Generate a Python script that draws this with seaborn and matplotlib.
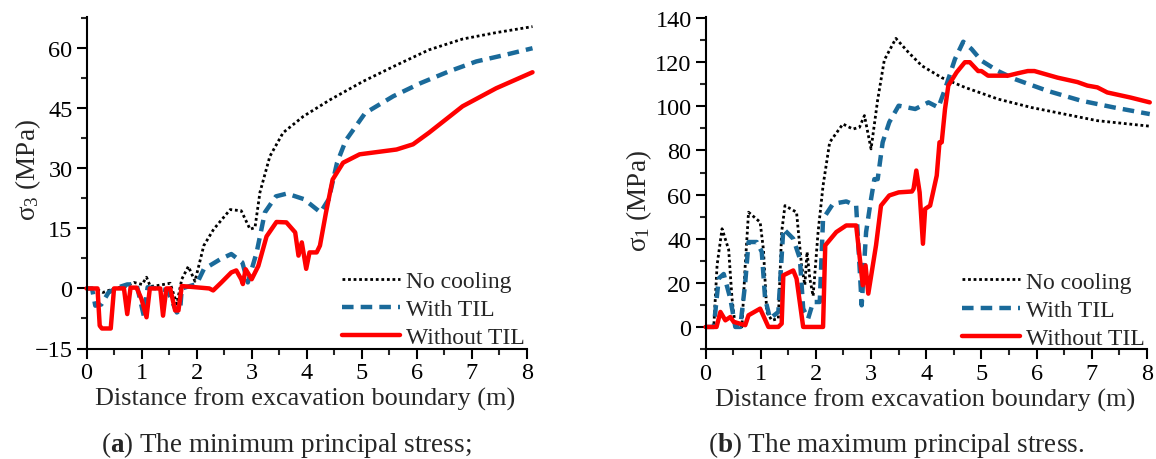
import numpy as np
import pandas as pd
import matplotlib
matplotlib.use("Agg")
import matplotlib.pyplot as plt
import seaborn as sns
from matplotlib.ticker import MultipleLocator

sns.set_theme(style="ticks")
plt.rcParams['font.family'] = ['Liberation Serif', 'DejaVu Serif']
plt.rcParams['mathtext.fontset'] = 'custom'
plt.rcParams['mathtext.rm'] = 'Liberation Serif'
plt.rcParams['mathtext.it'] = 'Liberation Serif:italic'
plt.rcParams['mathtext.bf'] = 'Liberation Serif:bold'

# ---------------- Panel (a): minimum principal stress ----------------
a_nc_x = [0, 0.15, 0.3, 0.51, 0.71, 0.86, 1.01, 1.09, 1.16, 1.28, 1.52, 1.64, 1.73, 1.85, 1.97, 2.13, 2.31,
          2.61, 2.81, 2.97, 3.06, 3.15, 3.33, 3.57, 3.94, 4.42, 5.02, 5.63, 6.22, 6.83, 7.44, 8.1]
a_nc_y = [0, 0, -1, 0, 0.5, 1.5, 1.0, 2.8, 0.5, 0.7, 1.3, -3.9, 2.3, 5.5, 1.8, 10.7, 14.8,
          19.7, 19.4, 14.8, 15.2, 24, 33, 38.9, 43, 47.1, 51.7, 55.8, 59.6, 62.3, 63.9, 65.4]

a_wt_x = [0, 0.1, 0.16, 0.27, 0.4, 0.56, 0.74, 0.91, 1.04, 1.11, 1.28, 1.47, 1.64, 1.7, 1.73, 2.0,
          2.13, 2.43, 2.63, 2.83, 2.93, 3.09, 3.24, 3.44, 3.64, 3.95, 4.25, 4.4, 4.55, 4.71, 5.06, 5.57,
          6.07, 6.58, 7.08, 7.59, 8.1]
a_wt_y = [0, 0, -4.3, -4.0, -1.0, 0.2, 1.0, 1.0, -6.8, 0.3, 0, -0.5, -6.0, -5.5, 0, 1.1,
          4.8, 7.3, 8.6, 6.5, 1.5, 9, 19, 23, 23.7, 22.3, 19, 22.3, 31.4, 37, 43.8, 48,
          51.3, 54.2, 56.7, 58.3, 60]

a_wo_x = [0, 0.2, 0.24, 0.28, 0.44, 0.5, 0.68, 0.74, 0.8, 0.91, 1.0, 1.09, 1.15, 1.34, 1.39, 1.45,
          1.52, 1.61, 1.67, 1.73, 2.23, 2.3, 2.45, 2.63, 2.72, 2.81, 2.84, 2.89, 3.0, 3.12, 3.27,
          3.45, 3.63, 3.79, 3.85, 3.91, 3.99, 4.05, 4.18, 4.24, 4.35, 4.47, 4.66, 4.96, 5.63, 5.93,
          6.22, 6.83, 7.44, 8.1]
a_wo_y = [0, 0, -9.3, -10, -10, 0, 0, -6.4, 0.2, 0.2, -2.7, -7.2, 0, 0, -6.8, 0,
          0, -5.5, -5.5, 0.6, 0, -0.5, 1.5, 4.0, 4.5, 2.3, 1.1, 4.8, 2.3, 5.6, 13,
          16.6, 16.5, 14, 8.2, 11.5, 4.9, 9, 9, 10.7, 19, 27.2, 31.4, 33.5, 34.7, 36,
          38.9, 45.5, 50, 54]

# ---------------- Panel (b): maximum principal stress ----------------
b_nc_x = [0, 0.15, 0.21, 0.3, 0.42, 0.48, 0.54, 0.66, 0.72, 0.78, 0.99, 1.05, 1.11, 1.2, 1.32, 1.38,
          1.44, 1.65, 1.74, 1.8, 1.84, 1.89, 1.95, 2.04, 2.13, 2.25, 2.49, 2.67, 2.79, 2.88, 3.0,
          3.12, 3.24, 3.45, 3.68, 3.92, 4.28, 4.7, 5.3, 5.9, 6.5, 7.1, 8.05]
b_nc_y = [0, 0, 28, 44.5, 35, 13, 0, 0, 28, 52, 47.5, 35, 6.8, 3, 3.8, 43,
          55, 52, 28, 19, 34, 22, 14, 43, 64, 83.7, 92, 89.7, 90.5, 95.8, 80.7,
          103, 121, 130.8, 124.4, 118.4, 113, 108.6, 103.3, 99.5, 96.5, 93.5, 91]

b_wt_x = [0, 0.15, 0.24, 0.33, 0.45, 0.54, 0.63, 0.72, 0.78, 0.93, 1.02, 1.08, 1.17, 1.32, 1.41,
          1.59, 1.71, 1.77, 1.86, 1.95, 2.07, 2.13, 2.31, 2.55, 2.73, 2.79, 2.83, 2.91, 3.0, 3.06,
          3.12, 3.21, 3.33, 3.5, 3.8, 4.04, 4.22, 4.34, 4.52, 4.67, 4.82, 5.0, 5.3, 5.6, 6.2, 6.8,
          7.4, 8.05]
b_wt_y = [0, 0, 22, 24, 12.8, 0, 0, 20, 38.5, 38.5, 34, 12.8, 3.8, 6.8, 44.5,
          40, 31, 8.3, 3.8, 11.3, 11.3, 49, 55.8, 56.9, 55, 28, 9.8, 43, 58, 67,
          67, 83.7, 92.8, 100.3, 98.8, 101.8, 99.5, 107.8, 121.4, 129.3, 126, 120.7, 116, 112.4, 107, 102.6,
          99.5, 96.5]

b_wo_x = [0, 0.2, 0.27, 0.36, 0.45, 0.51, 0.72, 0.78, 0.99, 1.14, 1.32, 1.38, 1.41, 1.59, 1.65, 1.77,
          2.13, 2.17, 2.37, 2.55, 2.73, 2.85, 2.9, 2.95, 3.09, 3.18, 3.33, 3.5, 3.74, 3.77, 3.82,
          3.88, 3.94, 3.98, 4.07, 4.19, 4.24, 4.28, 4.34, 4.4, 4.55, 4.7, 4.79, 4.94, 5.0, 5.12,
          5.48, 5.66, 5.84, 5.96, 6.38, 6.74, 6.92, 7.1, 7.28, 7.7, 8.05]
b_wo_y = [0, 0, 6.8, 3, 4.5, 2.3, 0.8, 5.3, 8.3, 0, 0, 1.5, 23.4, 25.6, 21.9, 0,
          0, 37, 43, 46, 46, 18.9, 27.9, 15.1, 37, 55, 59.6, 61, 61.4, 62.6, 70.9,
          61, 37.7, 53.5, 55, 68.6, 83.7, 83.7, 98.8, 109.4, 115.4, 120, 120, 116, 116, 113.9,
          113.9, 115, 116, 116, 113, 111, 109.4, 108.6, 106.3, 104, 101.8]

series_labels = ["No cooling", "With TIL", "Without TIL"]
x_ticks = [0, 1, 2, 3, 4, 5, 6, 7, 8]
a_yticks = [-15, 0, 15, 30, 45, 60]
b_yticks = [0, 20, 40, 60, 80, 100, 120, 140]

styles = [
    dict(color="black", lw=2.0, dashes=(1.0, 1.0)),
    dict(color="#1a6a9a", lw=3.2, dashes=(2.6, 1.6)),
    dict(color="#ff0000", lw=3.2, dashes=None),
]

W, H = 1156, 460
fig = plt.figure(figsize=(11.56, 4.6), dpi=100)
ax1 = fig.add_axes([86.5 / W, (H - 349.5) / H, (527 - 86.5) / W, (349.5 - 18) / H])
ax2 = fig.add_axes([705.5 / W, (H - 350) / H, (1147 - 705.5) / W, (350 - 18) / H])

panels = [
    (ax1, [(a_nc_x, a_nc_y), (a_wt_x, a_wt_y), (a_wo_x, a_wo_y)], (-15, 67.8), a_yticks, 7.5,
     r"$\mathrm{\sigma}_{3}$ (MPa)", (43 - 86.5) / 440.5, 0.54, (305 - 86.5) / 440.5),
    (ax2, [(b_nc_x, b_nc_y), (b_wt_x, b_wt_y), (b_wo_x, b_wo_y)], (-10, 140.5), b_yticks, 10,
     r"$\mathrm{\sigma}_{1}$ (MPa)", (654 - 705.5) / 441.5, 0.45, (925 - 705.5) / 441.5),
]

for ax, data, ylim, yticks, yminor, ylabel, lx, ly, xlx in panels:
    for (xs, ys), lab, st in zip(data, series_labels, styles):
        df = pd.DataFrame({"x": xs, "y": ys})
        sns.lineplot(data=df, x="x", y="y", ax=ax, sort=False, estimator=None,
                     color=st["color"], lw=st["lw"], label=lab)
        ln = ax.get_lines()[-1]
        if st["dashes"] is not None:
            ln.set_dashes(st["dashes"])
        ln.set_solid_joinstyle("round")
        ln.set_clip_on(False)
    ax.set_xlim(0, 8)
    ax.set_ylim(*ylim)
    ax.set_xticks(x_ticks)
    ax.set_yticks(yticks)
    ax.xaxis.set_minor_locator(MultipleLocator(0.5))
    ax.yaxis.set_minor_locator(MultipleLocator(yminor))
    ax.tick_params(axis="both", which="major", direction="out", length=7, width=1.5,
                   labelsize=17.5, colors="black", pad=3)
    ax.tick_params(axis="both", which="minor", direction="out", length=4, width=1.5)
    for s in ["top", "right"]:
        ax.spines[s].set_visible(False)
    for s in ["left", "bottom"]:
        ax.spines[s].set_linewidth(1.5)
        ax.spines[s].set_color("black")
    ax.set_xlabel("Distance from excavation boundary (m)", fontsize=18.9)
    ax.xaxis.set_label_coords(xlx, -(388 - 349.5) / 331.5)
    ax.xaxis.label.set_va("top")
    ax.set_ylabel(ylabel, fontsize=19.5)
    ax.yaxis.set_label_coords(lx, ly)
    ax.set_facecolor("white")
    ax.legend(loc="lower right", frameon=False, fontsize=17, handlelength=2.45,
              handletextpad=0.25, labelspacing=0.28, borderaxespad=0.0, borderpad=0.0,
              bbox_to_anchor=(0.995, 0.0))
    ax.set_yticklabels([("\u2212" + str(abs(t))) if t < 0 else str(t) for t in yticks])

fig.text(286 / W, 1 - 445 / H,
         r"($\mathbf{a}$) The minimum principal stress;", ha="center", va="center", fontsize=19.5)
fig.text(896 / W, 1 - 445 / H,
         r"($\mathbf{b}$) The maximum principal stress.", ha="center", va="center", fontsize=19.5)

fig.savefig("out.png", dpi=100, facecolor="white")
